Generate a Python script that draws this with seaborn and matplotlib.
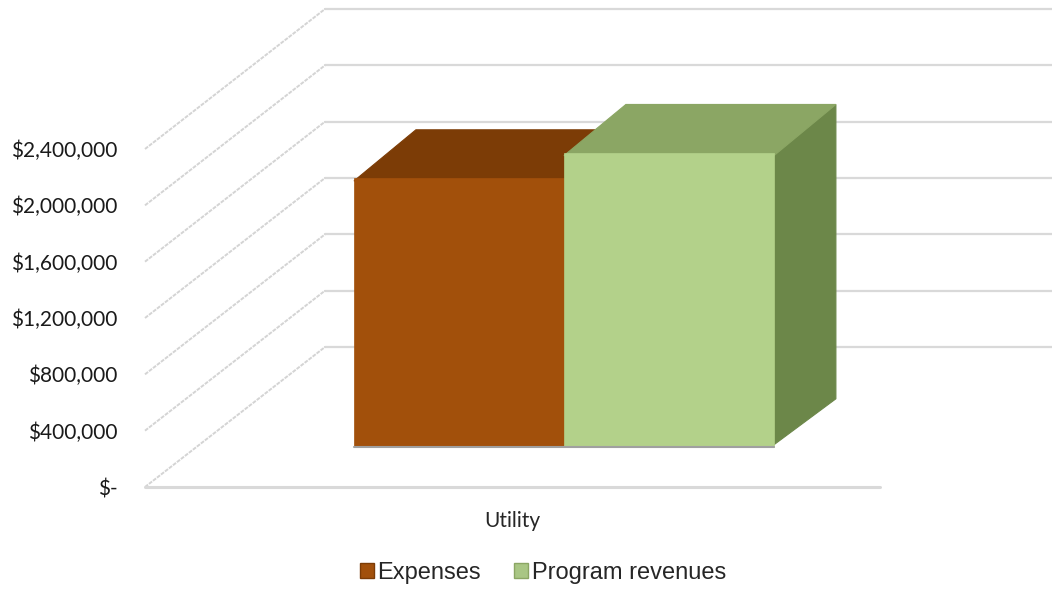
import pandas as pd
import seaborn as sns
import matplotlib.pyplot as plt
from matplotlib.patches import Polygon, Patch

# chart data
categories = ['Utility']
series = ['Expenses', 'Program revenues']
values = [1910000, 2090000]
tick_values = [0, 400000, 800000, 1200000, 1600000, 2000000, 2400000]
tick_labels = ['$-', '$400,000', '$800,000', '$1,200,000', '$1,600,000',
               '$2,000,000', '$2,400,000']

front_colors = ['#A2500B', '#B3D18A']
top_colors = ['#7C3C06', '#8BA664']
side_colors = ['#7A3A06', '#6C8749']

df = pd.DataFrame({'category': categories * len(series),
                   'series': series,
                   'value': values})

sns.set_theme(style='white')
plt.rcParams['font.family'] = ['Lato', 'DejaVu Sans']

W, H = 1052, 590
fig = plt.figure(figsize=(W / 100, H / 100), dpi=100)
# front plane of the 3d box, in pixels: x 145..880, y 487 ($-) .. 149 ($2.4M)
ax = fig.add_axes([145 / W, (H - 487) / H, 735 / W, 338 / H])

sns.barplot(data=df, x='category', y='value', hue='series', palette=front_colors,
            width=0.8, saturation=1, legend=False, ax=ax)
ax.set_xlim(-0.7, 0.7)
ax.set_ylim(0, 2400000)

# depth vector (full depth of the box) in data units
xu = 1.4 / 735
yu = 2400000 / 338
DX, DY = 180 * xu, 140 * yu
d_front, d_back = 0.286, 0.63

# grid on the back wall and slanted lines on the left wall
x0, x1 = ax.get_xlim()
for v in tick_values:
    ax.plot([x0 + DX, x1 + DX + 0.2], [v + DY, v + DY], color='#d9d9d9',
            lw=1.6, clip_on=False, zorder=0)
    ax.plot([x0, x0 + DX], [v, v + DY], color='#d4d4d4', lw=1.4,
            ls=(0, (2, 0.6)), clip_on=False, zorder=0)
ax.plot([x0, x1], [0, 0], color='#d9d9d9', lw=2.2, clip_on=False, zorder=0)

# move bars to their depth and add top / side faces
bars = list(ax.patches)
for i, bar in enumerate(bars):
    z = 2 + i
    bar.set_x(bar.get_x() + d_front * DX)
    bar.set_y(bar.get_y() + d_front * DY)
    bar.set_edgecolor(front_colors[i])
    bar.set_linewidth(0.5)
    bar.set_clip_on(False)
    bar.set_zorder(z)
    bx0 = bar.get_x()
    bx1 = bx0 + bar.get_width()
    by0 = bar.get_y()
    by1 = by0 + bar.get_height()
    ddx = (d_back - d_front) * DX
    ddy = (d_back - d_front) * DY
    # faces tuck a few px behind the front face so no seam shows
    tuck_x, tuck_y = 3 * xu, 3 * yu
    top = Polygon([(bx0, by1 - tuck_y), (bx1, by1 - tuck_y), (bx1 + ddx, by1 + ddy),
                   (bx0 + ddx, by1 + ddy)],
                  closed=True, facecolor=top_colors[i], edgecolor=top_colors[i], lw=0.8,
                  clip_on=False, zorder=z - 0.2)
    side = Polygon([(bx1 - tuck_x, by0), (bx1 - tuck_x, by1), (bx1 + ddx, by1 + ddy),
                    (bx1 + ddx, by0 + ddy)],
                   closed=True, facecolor=side_colors[i], edgecolor=side_colors[i], lw=0.8,
                   clip_on=False, zorder=z - 0.5)
    ax.add_patch(side)
    ax.add_patch(top)
    # thin grey shadow line under the bar front
    ax.plot([bx0, bx1], [by0, by0], color='#a0a0a0', lw=1.5, clip_on=False, zorder=z)

sns.despine(ax=ax, left=True, bottom=True)
ax.set_xlabel('')
ax.set_ylabel('')
ax.set_yticks(tick_values, tick_labels)
ax.tick_params(axis='y', length=0, pad=20, labelsize=15, labelcolor='#1a1a1a')
ax.tick_params(axis='x', length=0, pad=17, labelsize=15, labelcolor='#262626')
ax.grid(False)

handles = [Patch(facecolor=front_colors[0], edgecolor='#7C3C06', label=series[0]),
           Patch(facecolor='#A9C684', edgecolor='#8BA664', label=series[1])]
fig.legend(handles=handles, loc='center', bbox_to_anchor=(543 / W, 1 - 573 / H),
           ncol=2, frameon=False, handlelength=0.6, handleheight=0.6,
           handletextpad=0.15, columnspacing=1.4,
           prop={'family': 'Liberation Sans', 'size': 17})

fig.savefig('out.png', dpi=100)
